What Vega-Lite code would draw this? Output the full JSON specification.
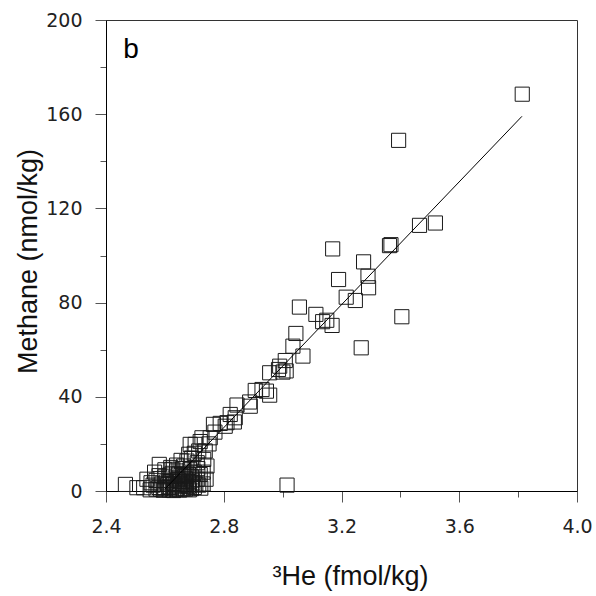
{
  "$schema": "https://vega.github.io/schema/vega-lite/v6.json",
  "width": 471,
  "height": 471,
  "autosize": {"type": "none"},
  "padding": {"left": 106, "top": 20, "right": 19, "bottom": 105},
  "background": "white",
  "config": {
    "view": {"stroke": "#333", "strokeWidth": 1},
    "axis": {
      "grid": false,
      "labelFont": "DejaVu Sans",
      "labelFontSize": 19,
      "labelColor": "#222",
      "tickColor": "#555",
      "tickWidth": 1,
      "domainColor": "#000",
      "domainWidth": 1,
      "titleFont": "Liberation Sans",
      "titleFontSize": 27,
      "titleFontWeight": "normal",
      "titleColor": "#111",
      "labelOverlap": false,
      "labelFlush": false
    }
  },
  "datasets": {
    "points": [
      {"he3": 3.814, "methane": 168.5}, {"he3": 3.394, "methane": 148.9}, {"he3": 3.465, "methane": 112.8},
      {"he3": 3.519, "methane": 113.8}, {"he3": 3.363, "methane": 104.2}, {"he3": 3.368, "methane": 104.6},
      {"he3": 3.17, "methane": 102.8}, {"he3": 3.275, "methane": 97.3}, {"he3": 3.29, "methane": 91.2},
      {"he3": 3.19, "methane": 89.8}, {"he3": 3.292, "methane": 86.3}, {"he3": 3.216, "methane": 82.3},
      {"he3": 3.247, "methane": 80.9}, {"he3": 3.057, "methane": 78.1}, {"he3": 3.113, "methane": 75.0},
      {"he3": 3.136, "methane": 71.9}, {"he3": 3.168, "methane": 70.3}, {"he3": 3.15, "methane": 72.5},
      {"he3": 3.405, "methane": 74.0}, {"he3": 3.045, "methane": 66.9}, {"he3": 3.035, "methane": 61.5},
      {"he3": 3.069, "methane": 57.3}, {"he3": 3.267, "methane": 60.8}, {"he3": 3.009, "methane": 55.4},
      {"he3": 3.001, "methane": 50.5}, {"he3": 2.986, "methane": 51.6}, {"he3": 2.956, "methane": 50.2},
      {"he3": 2.99, "methane": 53.0}, {"he3": 3.012, "methane": 51.0}, {"he3": 2.907, "methane": 42.7},
      {"he3": 2.945, "methane": 42.4}, {"he3": 2.956, "methane": 40.7}, {"he3": 2.93, "methane": 43.1},
      {"he3": 2.845, "methane": 36.5}, {"he3": 2.888, "methane": 37.8}, {"he3": 2.89, "methane": 36.0},
      {"he3": 2.836, "methane": 29.3}, {"he3": 2.822, "methane": 32.5}, {"he3": 2.839, "methane": 31.1},
      {"he3": 2.765, "methane": 28.3}, {"he3": 2.788, "methane": 28.7}, {"he3": 2.811, "methane": 29.0},
      {"he3": 2.805, "methane": 27.5}, {"he3": 2.726, "methane": 22.6}, {"he3": 2.754, "methane": 22.6},
      {"he3": 2.703, "methane": 19.8}, {"he3": 2.686, "methane": 19.8}, {"he3": 2.715, "methane": 17.0},
      {"he3": 2.737, "methane": 17.0}, {"he3": 2.732, "methane": 13.4}, {"he3": 2.743, "methane": 10.6},
      {"he3": 2.581, "methane": 11.3}, {"he3": 2.624, "methane": 9.2}, {"he3": 2.675, "methane": 12.7},
      {"he3": 2.681, "methane": 15.6}, {"he3": 2.664, "methane": 10.6}, {"he3": 2.466, "methane": 2.8},
      {"he3": 2.505, "methane": 1.4}, {"he3": 2.539, "methane": 5.0}, {"he3": 2.528, "methane": 1.4},
      {"he3": 3.015, "methane": 2.5}, {"he3": 2.77, "methane": 25.0}, {"he3": 2.75, "methane": 20.0},
      {"he3": 2.72, "methane": 21.0}, {"he3": 2.7, "methane": 16.0}, {"he3": 2.69, "methane": 14.0},
      {"he3": 2.71, "methane": 12.0}, {"he3": 2.73, "methane": 8.0}, {"he3": 2.74, "methane": 5.0},
      {"he3": 2.68, "methane": 7.0}, {"he3": 2.66, "methane": 4.0},
      {"he3": 2.55, "methane": 0.5}, {"he3": 2.56, "methane": 2.5}, {"he3": 2.57, "methane": 0.8},
      {"he3": 2.57, "methane": 4.5}, {"he3": 2.58, "methane": 1.5}, {"he3": 2.59, "methane": 3.0},
      {"he3": 2.595, "methane": 0.3}, {"he3": 2.6, "methane": 6.0}, {"he3": 2.6, "methane": 1.2},
      {"he3": 2.61, "methane": 2.8}, {"he3": 2.615, "methane": 0.5}, {"he3": 2.62, "methane": 4.5},
      {"he3": 2.62, "methane": 1.5}, {"he3": 2.625, "methane": 7.5}, {"he3": 2.63, "methane": 0.2},
      {"he3": 2.63, "methane": 3.2}, {"he3": 2.635, "methane": 5.5}, {"he3": 2.64, "methane": 1.0},
      {"he3": 2.64, "methane": 8.5}, {"he3": 2.645, "methane": 2.2}, {"he3": 2.65, "methane": 0.4},
      {"he3": 2.65, "methane": 4.0}, {"he3": 2.655, "methane": 6.5}, {"he3": 2.66, "methane": 1.8},
      {"he3": 2.66, "methane": 9.5}, {"he3": 2.665, "methane": 3.0}, {"he3": 2.67, "methane": 0.8},
      {"he3": 2.67, "methane": 5.2}, {"he3": 2.675, "methane": 7.5}, {"he3": 2.68, "methane": 2.0},
      {"he3": 2.68, "methane": 4.0}, {"he3": 2.685, "methane": 9.0}, {"he3": 2.69, "methane": 1.0},
      {"he3": 2.69, "methane": 6.0}, {"he3": 2.695, "methane": 3.5}, {"he3": 2.7, "methane": 8.0},
      {"he3": 2.7, "methane": 1.5}, {"he3": 2.71, "methane": 5.0}, {"he3": 2.715, "methane": 2.5},
      {"he3": 2.72, "methane": 7.0}, {"he3": 2.64, "methane": 11.0}, {"he3": 2.62, "methane": 10.0},
      {"he3": 2.655, "methane": 13.0}, {"he3": 2.6, "methane": 9.0}, {"he3": 2.58, "methane": 6.5},
      {"he3": 2.565, "methane": 8.0}, {"he3": 2.73, "methane": 3.0},
      {"he3": 2.585, "methane": 0.8}, {"he3": 2.605, "methane": 3.8}, {"he3": 2.612, "methane": 1.8},
      {"he3": 2.627, "methane": 2.6}, {"he3": 2.638, "methane": 0.6}, {"he3": 2.643, "methane": 4.8},
      {"he3": 2.652, "methane": 2.9}, {"he3": 2.662, "methane": 0.9}, {"he3": 2.668, "methane": 6.1},
      {"he3": 2.673, "methane": 2.4}, {"he3": 2.683, "methane": 0.5}, {"he3": 2.693, "methane": 4.6},
      {"he3": 2.705, "methane": 2.9}, {"he3": 2.712, "methane": 9.5}, {"he3": 2.722, "methane": 1.2},
      {"he3": 2.553, "methane": 3.5}, {"he3": 2.617, "methane": 6.8}, {"he3": 2.647, "methane": 7.2}
    ],
    "fit": [
      {"he3": 2.6, "methane": 0.8},
      {"he3": 3.813, "methane": 159.1}
    ],
    "label": [
      {"he3": 2.459, "methane": 184, "text": "b"}
    ]
  },
  "layer": [
    {
      "data": {"name": "points"},
      "mark": {"type": "point", "shape": "square", "filled": false, "size": 200, "stroke": "#1a1a1a", "strokeWidth": 1, "opacity": 1},
      "encoding": {
        "x": {
          "field": "he3", "type": "quantitative",
          "scale": {"domain": [2.4, 4.0], "nice": false, "zero": false},
          "axis": {
            "values": [2.4, 2.6, 2.8, 3.0, 3.2, 3.4, 3.6, 3.8, 4.0],
            "title": "³He (fmol/kg)",
            "labelExpr": "round(datum.value*10) % 4 == 0 ? format(datum.value, '.1f') : ''",
            "tickSize": {"condition": {"test": "round(datum.value*10) % 4 == 0", "value": 11}, "value": 6},
            "labelPadding": 15,
            "titleX": 244,
            "titleY": 93,
            "titleBaseline": "alphabetic",
            "titleAlign": "center"
          }
        },
        "y": {
          "field": "methane", "type": "quantitative",
          "scale": {"domain": [0, 200], "nice": false},
          "axis": {
            "values": [0, 20, 40, 60, 80, 100, 120, 140, 160, 180, 200],
            "title": "Methane (nmol/kg)",
            "labelExpr": "datum.value % 40 == 0 ? format(datum.value, 'd') : ''",
            "tickSize": {"condition": {"test": "datum.value % 40 == 0", "value": 11}, "value": 6},
            "labelPadding": 13,
            "titleX": -70,
            "titleY": 241,
            "titleAngle": -90,
            "titleBaseline": "alphabetic",
            "titleAlign": "center"
          }
        }
      }
    },
    {
      "data": {"name": "fit"},
      "mark": {"type": "line", "color": "#000", "strokeWidth": 1},
      "encoding": {
        "x": {"field": "he3", "type": "quantitative"},
        "y": {"field": "methane", "type": "quantitative"}
      }
    },
    {
      "data": {"name": "label"},
      "mark": {"type": "text", "font": "Liberation Sans", "fontSize": 28, "align": "left", "baseline": "alphabetic", "color": "#000"},
      "encoding": {
        "x": {"field": "he3", "type": "quantitative"},
        "y": {"field": "methane", "type": "quantitative"},
        "text": {"field": "text"}
      }
    }
  ]
}
